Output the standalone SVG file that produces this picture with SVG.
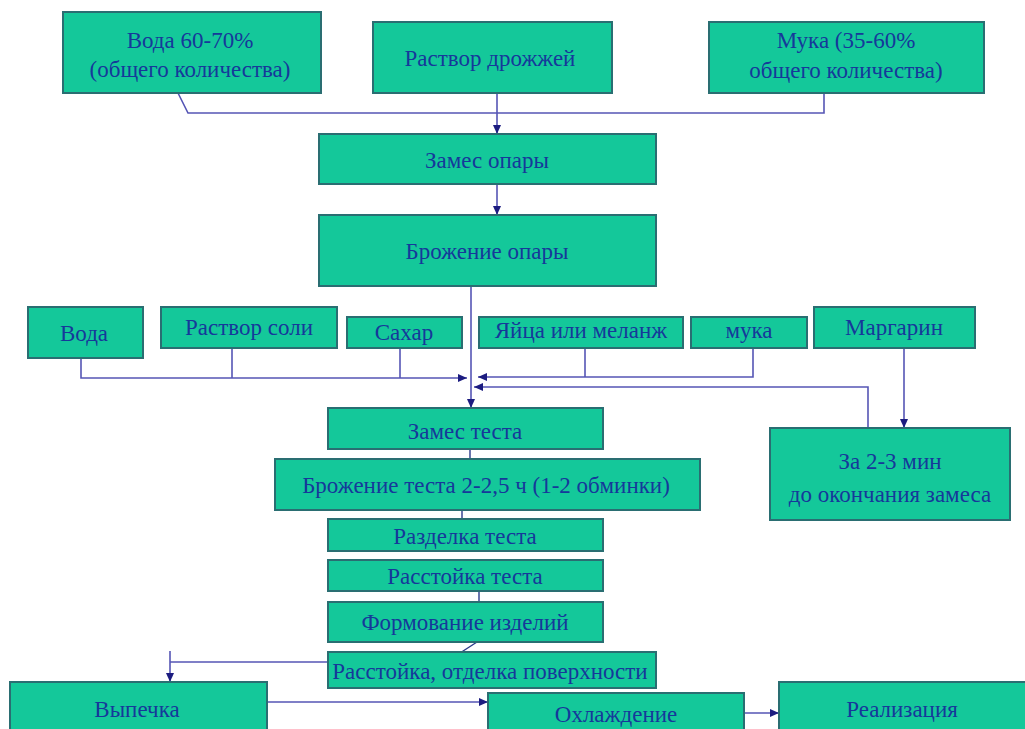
<svg xmlns="http://www.w3.org/2000/svg" width="1025" height="729" viewBox="0 0 1025 729">
<style>
.box{fill:#14C89A;stroke:#2A6E72;stroke-width:2}
.t{font-family:"Liberation Serif","Times New Roman",serif;font-size:23px;fill:#16389A;text-anchor:middle}
.c{fill:none;stroke:#5555B5;stroke-width:1.6}
.d{fill:none;stroke:#2A3A8A;stroke-width:1.4}
</style>
<defs>
<marker id="ah" markerUnits="userSpaceOnUse" markerWidth="10" markerHeight="10" refX="9" refY="5" orient="auto">
<path d="M0,1 L9,5 L0,9 Z" fill="#1C1C80"/>
</marker>
</defs>
<rect width="1025" height="729" fill="#FFFFFF"/>
<g id="connectors">
<polyline class="c" points="178,93 188,113 824,113 824,93"/>
<line class="c" x1="497" y1="93" x2="497" y2="134" marker-end="url(#ah)"/>
<line class="c" x1="497" y1="184" x2="497" y2="215" marker-end="url(#ah)"/>
<line class="c" x1="471" y1="286" x2="471" y2="408" marker-end="url(#ah)"/>
<polyline class="c" points="81,358 81,378 467,378" marker-end="url(#ah)"/>
<line class="c" x1="232" y1="348" x2="232" y2="378"/>
<line class="c" x1="400" y1="348" x2="400" y2="378"/>
<line class="c" x1="585" y1="348" x2="585" y2="377"/>
<polyline class="c" points="753,348 753,377 478,377" marker-end="url(#ah)"/>
<polyline class="c" points="868,428 868,387 474,387" marker-end="url(#ah)"/>
<line class="c" x1="904" y1="348" x2="904" y2="428" marker-end="url(#ah)"/>
<line class="d" x1="470" y1="449" x2="470" y2="459"/>
<line class="d" x1="462" y1="510" x2="462" y2="528"/>
<line class="d" x1="479" y1="591" x2="479" y2="602"/>
<line class="d" x1="477" y1="642" x2="460" y2="653"/>
<line class="c" x1="328" y1="662" x2="170" y2="662"/>
<line class="c" x1="170" y1="651" x2="170" y2="682" marker-end="url(#ah)"/>
<line class="c" x1="267" y1="702" x2="488" y2="702" marker-end="url(#ah)"/>
<line class="c" x1="744" y1="713" x2="779" y2="713" marker-end="url(#ah)"/>
</g>
<g id="n-voda-top"><rect class="box" x="63" y="12" width="258" height="81"/><text class="t" x="190" y="48">Вода 60-70%</text><text class="t" x="190" y="77">(общего количества)</text></g>
<g id="n-drozhzhi"><rect class="box" x="373" y="22" width="239" height="71"/><text class="t" x="490" y="66">Раствор дрожжей</text></g>
<g id="n-muka-top"><rect class="box" x="709" y="22" width="275" height="71"/><text class="t" x="846" y="48">Мука (35-60%</text><text class="t" x="846" y="78">общего количества)</text></g>
<g id="n-zames-opary"><rect class="box" x="319" y="134" width="337" height="50"/><text class="t" x="487" y="168">Замес опары</text></g>
<g id="n-brozhenie-opary"><rect class="box" x="319" y="215" width="337" height="71"/><text class="t" x="487" y="259">Брожение опары</text></g>
<g id="n-voda"><rect class="box" x="28" y="307" width="115" height="51"/><text class="t" x="84" y="341">Вода</text></g>
<g id="n-sol"><rect class="box" x="161" y="307" width="176" height="41"/><text class="t" x="249" y="335">Раствор соли</text></g>
<g id="n-sahar"><rect class="box" x="347" y="317" width="115" height="31"/><text class="t" x="404" y="340">Сахар</text></g>
<g id="n-yaica"><rect class="box" x="479" y="317" width="204" height="31"/><text class="t" x="581" y="338">Яйца или меланж</text></g>
<g id="n-muka"><rect class="box" x="691" y="317" width="116" height="31"/><text class="t" x="749" y="338">мука</text></g>
<g id="n-margarin"><rect class="box" x="814" y="307" width="161" height="41"/><text class="t" x="894" y="335">Маргарин</text></g>
<g id="n-za23"><rect class="box" x="770" y="428" width="240" height="92"/><text class="t" x="890" y="469">За 2-3 мин</text><text class="t" x="890" y="502">до окончания замеса</text></g>
<g id="n-zames-testa"><rect class="box" x="328" y="408" width="275" height="41"/><text class="t" x="465" y="439">Замес теста</text></g>
<g id="n-brozhenie-testa"><rect class="box" x="275" y="459" width="425" height="51"/><text class="t" x="486" y="493">Брожение теста 2-2,5 ч (1-2 обминки)</text></g>
<g id="n-razdelka"><rect class="box" x="328" y="519" width="275" height="32"/><text class="t" x="465" y="544">Разделка теста</text></g>
<g id="n-rasstoyka"><rect class="box" x="328" y="560" width="275" height="31"/><text class="t" x="465" y="584">Расстойка теста</text></g>
<g id="n-formovanie"><rect class="box" x="328" y="602" width="275" height="40"/><text class="t" x="465" y="630">Формование изделий</text></g>
<g id="n-otdelka"><rect class="box" x="328" y="652" width="328" height="36"/><text class="t" x="490" y="679">Расстойка, отделка поверхности</text></g>
<g id="n-vypechka"><rect class="box" x="10" y="682" width="257" height="60"/><text class="t" x="137" y="717">Выпечка</text></g>
<g id="n-ohlazhdenie"><rect class="box" x="488" y="693" width="256" height="50"/><text class="t" x="616" y="722">Охлаждение</text></g>
<g id="n-realizaciya"><rect class="box" x="779" y="682" width="250" height="60"/><text class="t" x="902" y="717">Реализация</text></g>
</svg>
